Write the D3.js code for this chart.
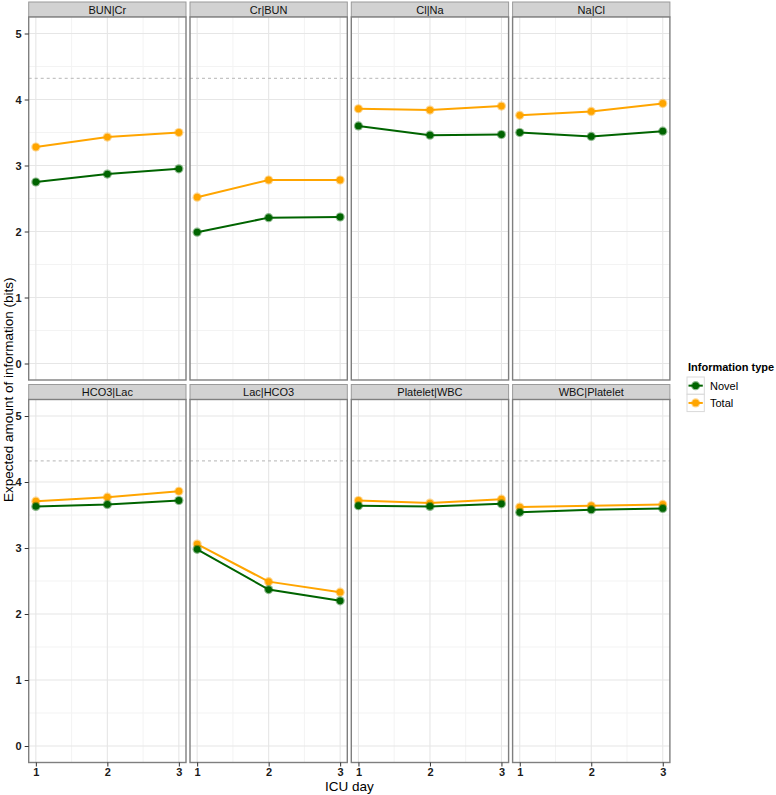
<!DOCTYPE html>
<html>
<head>
<meta charset="utf-8">
<script src="https://cdn.jsdelivr.net/npm/d3@7"></script>
<style>
    body { margin: 0; background: #fff; }
    svg { font-family: "Liberation Sans", Arial, sans-serif; }
    .tick-label { font-size: 11px; font-weight: bold; fill: #1a1a1a; }
    .strip-label { font-size: 11px; fill: #111; }
</style>
</head>
<body>
<div id="chart"></div>
<script>
// facet labels, in reading order (4 per row)
var facets = ["BUN|Cr", "Cr|BUN", "Cl|Na", "Na|Cl", "HCO3|Lac", "Lac|HCO3", "Platelet|WBC", "WBC|Platelet"];
var days = [1, 2, 3];
var novel = [
    [2.75, 2.87, 2.95],
    [1.99, 2.21, 2.22],
    [3.60, 3.46, 3.47],
    [3.50, 3.44, 3.52],
    [3.63, 3.66, 3.72],
    [2.98, 2.37, 2.20],
    [3.64, 3.63, 3.67],
    [3.54, 3.58, 3.60]
];
var total = [
    [3.28, 3.43, 3.50],
    [2.52, 2.78, 2.78],
    [3.86, 3.84, 3.90],
    [3.76, 3.82, 3.94],
    [3.71, 3.77, 3.86],
    [3.06, 2.49, 2.33],
    [3.72, 3.68, 3.74],
    [3.62, 3.64, 3.66]
];
var refLine = 4.32; // dashed line (about log2(20))
var yTicks = [0, 1, 2, 3, 4, 5];
var yMinor = [0.5, 1.5, 2.5, 3.5, 4.5];
var xMinor = [1.5, 2.5];
var seriesNames = ["Novel", "Total"];
var colors = {Novel: "#006400", Total: "#FFA500"};

var W = 776, H = 795;
var left = 28.7, pw = 157.3, gap = 4,
    stripH = 15, ph = 363,
    rowTops = [2, 384.5];

var svg = d3.select("#chart").append("svg")
    .attr("width", W)
    .attr("height", H);

var x = d3.scaleLinear().domain([0.9, 3.1]).range([0, pw]);
var y = d3.scaleLinear().domain([-0.25, 5.25]).range([ph, 0]);

var line = d3.line()
    .x(function (d) { return x(d.day); })
    .y(function (d) { return y(d.v); });

facets.forEach(function (name, i) {
    var col = i % 4, row = Math.floor(i / 4);
    var px = left + col * (pw + gap),
        top = rowTops[row];

    // strip
    svg.append("rect")
        .attr("x", px).attr("y", top)
        .attr("width", pw).attr("height", stripH)
        .attr("fill", "#d2d2d2")
        .attr("stroke", "#9a9a9a").attr("stroke-width", 1);
    svg.append("text")
        .attr("class", "strip-label")
        .attr("x", px + pw / 2).attr("y", top + stripH / 2 + 4)
        .attr("text-anchor", "middle")
        .text(name);

    var g = svg.append("g")
        .attr("transform", "translate(" + px + "," + (top + stripH) + ")");

    g.append("rect")
        .attr("width", pw).attr("height", ph)
        .attr("fill", "#fff");

    // minor grid
    g.selectAll(".yminor").data(yMinor).enter().append("line")
        .attr("x1", 0).attr("x2", pw)
        .attr("y1", function (d) { return y(d); })
        .attr("y2", function (d) { return y(d); })
        .attr("stroke", "#f3f3f3").attr("stroke-width", 1);
    g.selectAll(".xminor").data(xMinor).enter().append("line")
        .attr("y1", 0).attr("y2", ph)
        .attr("x1", function (d) { return x(d); })
        .attr("x2", function (d) { return x(d); })
        .attr("stroke", "#f3f3f3").attr("stroke-width", 1);

    // major grid
    g.selectAll(".ymajor").data(yTicks).enter().append("line")
        .attr("x1", 0).attr("x2", pw)
        .attr("y1", function (d) { return y(d); })
        .attr("y2", function (d) { return y(d); })
        .attr("stroke", "#e6e6e6").attr("stroke-width", 1.1);
    g.selectAll(".xmajor").data(days).enter().append("line")
        .attr("y1", 0).attr("y2", ph)
        .attr("x1", function (d) { return x(d); })
        .attr("x2", function (d) { return x(d); })
        .attr("stroke", "#e6e6e6").attr("stroke-width", 1.1);

    // reference line
    g.append("line")
        .attr("x1", 0).attr("x2", pw)
        .attr("y1", y(refLine)).attr("y2", y(refLine))
        .attr("stroke", "#c4c4c4").attr("stroke-width", 1.1)
        .attr("stroke-dasharray", "3,3");

    // series
    [total[i], novel[i]].forEach(function (vals, k) {
        var nm = k === 0 ? "Total" : "Novel";
        var pts = days.map(function (d, j) { return {day: d, v: vals[j]}; });
        g.append("path")
            .datum(pts)
            .attr("fill", "none")
            .attr("stroke", colors[nm])
            .attr("stroke-width", 2)
            .attr("d", line);
        g.selectAll(".halo" + k).data(pts).enter().append("circle")
            .attr("cx", function (d) { return x(d.day); })
            .attr("cy", function (d) { return y(d.v); })
            .attr("r", 4.6)
            .attr("fill", colors[nm]).attr("opacity", 0.45);
        g.selectAll(".dot" + k).data(pts).enter().append("circle")
            .attr("cx", function (d) { return x(d.day); })
            .attr("cy", function (d) { return y(d.v); })
            .attr("r", 3.4)
            .attr("fill", colors[nm]);
    });

    // panel border
    g.append("rect")
        .attr("width", pw).attr("height", ph)
        .attr("fill", "none")
        .attr("stroke", "#7f7f7f").attr("stroke-width", 1.4);

    // y axis on the first column
    if (col === 0) {
        var ya = g.append("g").call(d3.axisLeft(y).tickValues(yTicks).tickFormat(d3.format("d")).tickSize(4).tickPadding(3));
        ya.select(".domain").remove();
        ya.selectAll("line").attr("stroke", "#333");
        ya.selectAll("text").attr("class", "tick-label").attr("font-family", null).attr("font-size", null);
    }
    // x axis on the bottom row
    if (row === 1) {
        var xa = g.append("g")
            .attr("transform", "translate(0," + ph + ")")
            .call(d3.axisBottom(x).tickValues(days).tickFormat(d3.format("d")).tickSize(4).tickPadding(1.5));
        xa.select(".domain").remove();
        xa.selectAll("line").attr("stroke", "#333");
        xa.selectAll("text").attr("class", "tick-label").attr("font-family", null).attr("font-size", null);
    }
});

// axis titles
var plotRight = left + 4 * pw + 3 * gap;
svg.append("text")
    .attr("x", (left + plotRight) / 2).attr("y", 791)
    .attr("text-anchor", "middle")
    .style("font-size", "13.5px")
    .text("ICU day");

svg.append("text")
    .attr("transform", "translate(13," + ((rowTops[0] + stripH + rowTops[1] + stripH + ph) / 2) + ") rotate(-90)")
    .attr("text-anchor", "middle")
    .style("font-size", "13.5px")
    .text("Expected amount of information (bits)");

// legend
var lg = svg.append("g").attr("transform", "translate(687,0)");
lg.append("text")
    .attr("x", 1).attr("y", 371)
    .style("font-size", "11px").style("font-weight", "bold")
    .text("Information type");
seriesNames.forEach(function (nm, k) {
    var ky = 377 + k * 17.3;
    lg.append("rect")
        .attr("x", 0).attr("y", ky)
        .attr("width", 17.3).attr("height", 17.3)
        .attr("fill", "#fff").attr("stroke", "#d9d9d9").attr("stroke-width", 1);
    lg.append("line")
        .attr("x1", 1.5).attr("x2", 15.8)
        .attr("y1", ky + 8.65).attr("y2", ky + 8.65)
        .attr("stroke", colors[nm]).attr("stroke-width", 2);
    lg.append("circle")
        .attr("cx", 8.65).attr("cy", ky + 8.65).attr("r", 4.6)
        .attr("fill", colors[nm]).attr("opacity", 0.45);
    lg.append("circle")
        .attr("cx", 8.65).attr("cy", ky + 8.65).attr("r", 3.4)
        .attr("fill", colors[nm]);
    lg.append("text")
        .attr("x", 23).attr("y", ky + 12.5)
        .style("font-size", "11px")
        .text(nm);
});
</script>
</body>
</html>
